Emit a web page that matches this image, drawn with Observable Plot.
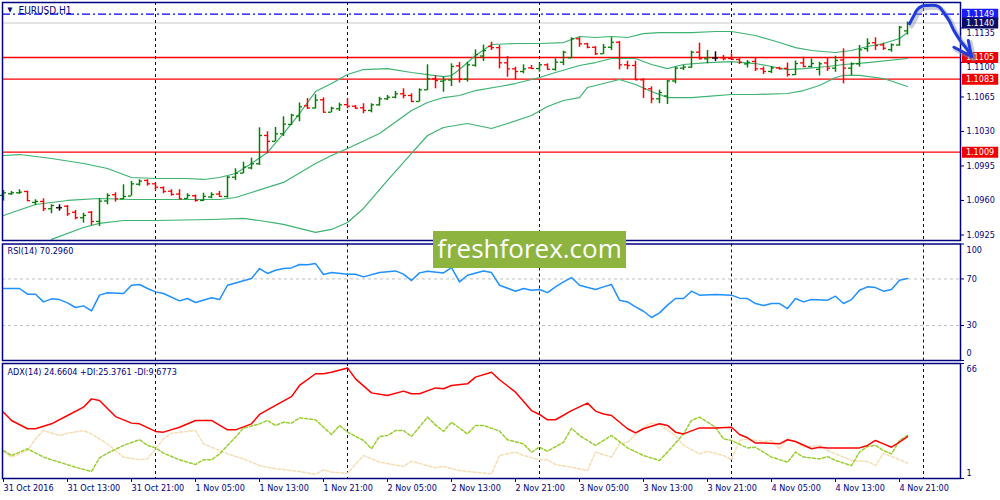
<!DOCTYPE html>
<html>
<head>
<meta charset="utf-8">
<script src="https://cdn.jsdelivr.net/npm/d3@7"></script>
<script src="https://cdn.jsdelivr.net/npm/@observablehq/plot@0.6"></script>
<style>
  body { margin: 0; background: #fff; width: 1000px; height: 500px; overflow: hidden; position: relative; }
  #chart svg { display: block; }
  #wm {
    position: absolute; left: 433px; top: 231px; width: 193px; height: 37px;
    background: #8cb43f; color: #fff; font: 26px "Open Sans", sans-serif;
    line-height: 35px; text-align: center;
  }
</style>
</head>
<body>
<div id="chart"></div>
<div id="wm">freshforex.com</div>
<script>
// EURUSD H1, 31 Oct 05:00 .. 4 Nov 22:00 (2016), one bar per hour
const opens = [1.09651,1.09668,1.09678,1.09691,1.09580,1.09590,1.09516,1.09526,1.09542,1.09480,
  1.09425,1.09481,1.09387,1.09595,1.09658,1.09617,1.09645,1.09765,1.09803,1.09769,
  1.09730,1.09694,1.09665,1.09620,1.09648,1.09600,1.09635,1.09665,1.09640,1.09836,
  1.09877,1.09930,1.09972,1.10259,1.10200,1.10276,1.10371,1.10455,1.10560,1.10538,
  1.10621,1.10495,1.10530,1.10572,1.10556,1.10540,1.10513,1.10570,1.10631,1.10647,
  1.10682,1.10665,1.10604,1.10722,1.10834,1.10810,1.10822,1.10965,1.10830,1.10972,
  1.11065,1.11162,1.11150,1.10996,1.10935,1.10908,1.10945,1.10938,1.10976,1.10931,
  1.11002,1.11047,1.11240,1.11189,1.11154,1.11088,1.11154,1.11205,1.10976,1.10969,
  1.10824,1.10733,1.10631,1.10660,1.10812,1.10942,1.10952,1.11104,1.11037,1.11045,
  1.11048,1.11040,1.11030,1.10985,1.11010,1.10935,1.10908,1.10944,1.10940,1.10876,
  1.10995,1.10959,1.10930,1.10995,1.10942,1.11025,1.10942,1.10986,1.11140,1.11200,
  1.11178,1.11130,1.11177,1.11320];
const highs = [1.09701,1.09691,1.09709,1.09695,1.09607,1.09617,1.09556,1.09556,1.09549,1.09499,
  1.09471,1.09488,1.09617,1.09668,1.09678,1.09759,1.09793,1.09810,1.09810,1.09775,
  1.09738,1.09709,1.09709,1.09668,1.09655,1.09674,1.09678,1.09691,1.09843,1.09921,
  1.09988,1.10029,1.10337,1.10297,1.10340,1.10449,1.10475,1.10589,1.10634,1.10672,
  1.10641,1.10546,1.10587,1.10631,1.10563,1.10581,1.10581,1.10647,1.10665,1.10705,
  1.10733,1.10682,1.10733,1.10976,1.10867,1.10854,1.10986,1.10999,1.11002,1.11128,
  1.11177,1.11205,1.11172,1.11060,1.10952,1.10976,1.10969,1.10992,1.10986,1.11037,
  1.11114,1.11250,1.11252,1.11195,1.11160,1.11182,1.11250,1.11212,1.11013,1.11013,
  1.10834,1.10753,1.10720,1.10817,1.10952,1.10969,1.11114,1.11195,1.11121,1.11108,
  1.11070,1.11088,1.11037,1.11020,1.11050,1.10954,1.10959,1.10952,1.10994,1.11015,
  1.11053,1.11035,1.11002,1.11043,1.11063,1.11138,1.10996,1.11172,1.11240,1.11250,
  1.11195,1.11189,1.11366,1.11410];
const lows = [1.09593,1.09651,1.09661,1.09590,1.09549,1.09488,1.09465,1.09492,1.09438,1.09404,
  1.09370,1.09346,1.09336,1.09556,1.09583,1.09607,1.09644,1.09745,1.09745,1.09701,
  1.09668,1.09644,1.09610,1.09612,1.09583,1.09590,1.09617,1.09633,1.09623,1.09803,
  1.09871,1.09911,1.09955,1.10074,1.10195,1.10250,1.10360,1.10398,1.10523,1.10527,
  1.10487,1.10490,1.10502,1.10530,1.10523,1.10479,1.10489,1.10556,1.10614,1.10631,
  1.10631,1.10597,1.10598,1.10715,1.10733,1.10698,1.10756,1.10791,1.10800,1.10952,
  1.11009,1.11121,1.10935,1.10850,1.10824,1.10885,1.10930,1.10901,1.10925,1.10911,
  1.10969,1.11037,1.11154,1.11138,1.11070,1.11082,1.11121,1.10925,1.10925,1.10817,
  1.10634,1.10581,1.10581,1.10573,1.10783,1.10918,1.10940,1.11027,1.10986,1.11009,
  1.11017,1.11020,1.10979,1.10944,1.10908,1.10878,1.10888,1.10925,1.10852,1.10867,
  1.10947,1.10944,1.10862,1.10908,1.10901,1.10783,1.10867,1.10952,1.11104,1.11121,
  1.11121,1.11104,1.11165,1.11278];
const closes = [1.09678,1.09678,1.09684,1.09598,1.09590,1.09516,1.09549,1.09526,1.09465,1.09425,
  1.09448,1.09387,1.09593,1.09651,1.09617,1.09641,1.09769,1.09796,1.09769,1.09735,
  1.09691,1.09661,1.09617,1.09651,1.09600,1.09641,1.09661,1.09641,1.09836,1.09877,
  1.09938,1.09972,1.10259,1.10200,1.10276,1.10374,1.10465,1.10550,1.10538,1.10618,
  1.10495,1.10536,1.10570,1.10556,1.10536,1.10513,1.10570,1.10631,1.10647,1.10682,
  1.10665,1.10604,1.10722,1.10834,1.10817,1.10822,1.10959,1.10830,1.10976,1.11080,
  1.11120,1.11150,1.10996,1.10935,1.10908,1.10935,1.10938,1.10976,1.10931,1.11002,
  1.11104,1.11240,1.11189,1.11154,1.11088,1.11154,1.11205,1.10976,1.10969,1.10824,
  1.10733,1.10631,1.10695,1.10812,1.10942,1.10952,1.11104,1.11037,1.11050,1.11045,
  1.11037,1.11032,1.11002,1.11002,1.10935,1.10908,1.10944,1.10935,1.10876,1.10989,
  1.10959,1.10989,1.10986,1.10942,1.11020,1.10942,1.10986,1.11128,1.11195,1.11172,
  1.11144,1.11179,1.11357,1.11400];

// Bollinger bands (20), read at selected bars
const bbUpBar = [0,2,6,10,13,16,19,23,25,27,29,31,33,35,37,39,41,43,45,48,51,55,56,57,59,61,64,67,70,72,74,76,78,80,82,86,89,91,94,97,99,101,104,106,108,110,112,113];
const bbUp = [1.10056,1.10066,1.10026,1.09975,1.09924,1.09833,1.09823,1.09823,1.09813,1.09833,1.09874,1.09975,1.10087,1.10279,1.10482,1.10705,1.10786,1.10878,1.10928,1.10938,1.10898,1.10857,1.10867,1.10928,1.11070,1.11182,1.11192,1.11192,1.11202,1.11263,1.11253,1.11263,1.11253,1.11293,1.11303,1.11303,1.11314,1.11314,1.11273,1.11202,1.11151,1.11121,1.11101,1.11121,1.11162,1.11192,1.11243,1.11303];
const bbMidBar = [0,4,8,12,16,23,27,29,31,35,39,41,43,47,51,53,55,57,59,62,64,67,69,72,74,76,79,81,83,85,88,91,94,96,98,100,103,105,108,113];
const bbMid = [1.09448,1.09559,1.09600,1.09620,1.09610,1.09610,1.09610,1.09630,1.09681,1.09783,1.09975,1.10056,1.10127,1.10279,1.10513,1.10594,1.10644,1.10665,1.10715,1.10756,1.10786,1.10847,1.10898,1.10969,1.10999,1.11040,1.11040,1.10979,1.10938,1.10979,1.10999,1.11009,1.10989,1.10959,1.10928,1.10938,1.10959,1.10979,1.10999,1.11040];
const bbLowBar = [6,10,12,15,19,26,30,32,35,39,41,43,45,48,51,53,55,58,61,63,66,68,70,72,73,75,77,79,81,83,86,88,91,94,98,100,102,104,105,107,110,113];
const bbLow = [1.09205,1.09326,1.09367,1.09397,1.09397,1.09407,1.09418,1.09397,1.09357,1.09276,1.09306,1.09377,1.09519,1.09803,1.10077,1.10259,1.10340,1.10381,1.10330,1.10381,1.10462,1.10553,1.10614,1.10644,1.10746,1.10786,1.10827,1.10776,1.10705,1.10644,1.10644,1.10655,1.10675,1.10675,1.10685,1.10715,1.10766,1.10847,1.10868,1.10868,1.10837,1.10756];

// RSI(14)
const rsiBar = [0,2,3,4,5,6,7,8,9,10,11,12,13,15,16,17,18,19,20,22,23,24,26,27,28,29,31,32,33,34,35,36,37,38,39,40,41,43,44,45,47,49,50,51,52,53,55,56,57,58,60,61,62,64,65,66,67,68,69,70,71,72,74,75,76,77,78,79,80,81,82,83,84,85,86,87,89,91,92,93,94,95,96,97,98,99,100,101,103,104,105,106,107,108,109,110,111,112,113];
const rsiVal = [61.8,61.8,56.9,56.9,50.3,52.9,52.3,49.5,45.5,46.9,42.6,56.1,58.1,57.5,64.6,65.2,61.8,58.9,57.5,51.2,53.2,49.8,53.8,52.3,64.6,66.6,70.4,78.9,74.7,77.5,78.9,79.5,82.4,82.1,83.2,73.8,75.5,74.1,74.1,71.8,75.5,76.9,74.1,68.6,75.2,76.7,75.2,79.8,67.5,73.2,76.9,75.5,64.6,59.5,61.8,60.3,60.9,58.3,63.2,67.5,71.2,64.6,60.9,63.2,65.2,51.8,50.3,46.0,42.3,36.9,40.9,47.5,53.2,53.2,59.5,56.1,56.6,56.1,53.5,53.2,48.9,47.2,48.9,48.9,44.6,53.2,50.3,52.3,51.8,55.2,48.9,52.3,60.3,63.2,62.6,59.5,60.9,68.9,70.296];
const rsiLevels = [70, 30];

// ADX(14), +DI, -DI
const adxBar = [0,1,3,4,6,8,10,11,12,14,16,17,19,20,22,24,26,28,29,31,32,34,36,37,39,40,41,43,44,46,48,50,51,52,54,55,56,58,59,61,62,64,66,67,68,69,71,73,74,75,76,78,79,80,82,83,84,85,87,89,91,92,93,94,95,97,98,99,101,102,103,105,107,108,109,110,111,112,113];
const adxVal = [38.5,33.8,29.1,29.1,31.9,36.6,41.3,46.0,45.1,36.0,32.3,31.9,27.6,27.2,30.0,33.8,33.8,28.5,28.5,31.9,37.2,42.3,47.3,53.6,60.2,60.2,61.1,63.5,57.3,49.4,47.9,50.4,48.9,48.9,52.2,51.7,53.6,54.5,58.3,61.1,56.8,49.8,39.4,37.2,34.2,34.2,39.4,43.6,39.1,37.5,36.6,29.1,26.8,29.1,31.9,31.0,27.2,26.2,29.6,29.6,30.0,25.9,24.0,21.0,21.0,20.6,22.9,21.9,17.8,18.7,18.3,18.3,18.3,19.7,22.5,20.6,18.7,21.5,24.6604];
const plusBar = [0,1,3,5,7,9,11,12,13,15,17,18,19,20,22,24,25,26,27,29,30,32,33,34,35,36,37,39,40,41,42,43,45,46,47,48,49,50,51,53,54,55,56,58,59,60,62,63,65,66,67,68,70,71,72,74,76,78,80,82,83,85,86,87,89,90,91,93,94,95,96,98,99,100,102,103,104,106,107,108,109,110,111,112,113];
const plusVal = [16.8,14.0,17.8,13.1,10.2,7.4,5.0,12.7,15.3,19.7,22.9,19.7,18.3,15.3,11.6,8.9,11.6,11.6,14.9,24.4,29.4,31.9,33.8,31.0,32.8,32.3,35.3,34.2,30.0,25.9,31.0,27.2,22.5,17.8,24.7,25.3,28.1,28.1,24.7,35.7,31.3,27.6,32.8,26.2,31.0,31.0,27.8,22.9,20.6,15.9,18.7,16.4,21.5,29.4,25.3,19.7,25.3,18.3,14.0,11.2,15.9,26.2,33.8,35.7,30.0,23.4,22.5,18.3,18.7,15.9,13.1,10.2,15.9,13.1,12.1,13.4,11.2,8.3,15.9,19.1,19.7,16.8,14.9,22.5,25.3761];
const minusBar = [0,1,3,4,5,7,8,10,11,13,14,15,17,18,20,21,24,25,28,30,32,34,37,39,40,41,43,45,47,50,51,54,55,57,61,62,64,65,67,68,69,71,73,74,76,77,78,80,81,82,84,85,87,88,90,91,92,93,95,96,97,98,99,100,102,103,105,106,108,109,110,112,113];
const minusVal = [15.9,13.1,16.8,23.4,28.1,25.3,26.6,28.1,26.2,20.6,16.8,13.1,11.6,12.1,23.4,26.6,28.1,20.6,14.9,12.1,8.3,6.5,5.0,3.3,5.9,4.6,4.0,14.0,10.2,7.8,10.8,7.0,7.8,5.5,3.6,14.0,15.9,14.0,11.6,11.6,8.9,7.4,5.5,15.9,13.1,20.6,21.5,30.0,32.3,31.5,25.3,19.7,14.9,16.4,14.0,11.6,22.5,23.4,21.9,22.5,17.8,23.4,21.9,18.7,19.7,16.8,13.1,11.2,10.6,8.3,15.3,11.7,9.6773];

// horizontal levels and price tags
const levels = [1.1105, 1.1083, 1.1009];
const alertLevel = 1.1149;
const bidLevel = 1.1140;
const priceTicks = [1.1135, 1.1100, 1.1065, 1.1030, 1.0995, 1.0960, 1.0925];
const hiddenTicks = [1.1135, 1.1100]; // partly covered by the tags
const tagValues = [1.1149, 1.1140, 1.1105, 1.1083, 1.1009];
const tagColors = ["#1c1cff", "#0d0d66", "#f00000", "#f00000", "#f00000"];

// hand-drawn forecast arrow (hours from first bar, price)
const arrowHour = [113.25, 113.8, 114.2, 114.8, 115.4, 116.5, 117, 117.5, 118.2, 118.8, 119.6, 120.5, 121];
const arrowPrice = [1.11392, 1.11476, 1.11534, 1.11570, 1.11577, 1.11577, 1.11560, 1.11509, 1.11425, 1.11324, 1.11222, 1.11128, 1.11060];
const headHour = [120.6, 121, 118.8];
const headPrice = [1.11222, 1.11060, 1.11154];

const xTickHours = d3.range(0, 113, 8);
const daySepHours = [19, 43, 67, 91, 115];

const NAVY = "#000080", GREEN = "#008000", RED = "#ff0000", BAND = "#3cb371";
const FONT = "'DejaVu Sans Condensed','DejaVu Sans',sans-serif";
const t0 = Date.UTC(2016, 9, 31, 5);
const at = h => new Date(t0 + h * 36e5);
const xDomain = [at(-0.125), at(119.625)];
const TICK = 0.375; // open/close tick length, hours

const bars = opens.map((o, i) => ({t: at(i), o, h: highs[i], l: lows[i], c: closes[i]}));
const barColor = d => d.c > d.o ? GREEN : d.c < d.o ? RED : "#000";
const pts = (hs, vs) => hs.map((h, i) => ({t: at(h), v: vs[i]}));
const tags = tagValues.map((v, i) => ({v, bg: tagColors[i]}));
const daySeps = daySepHours.map(at);

const base = {
  width: 1000, marginLeft: 2, marginRight: 40,
  style: {fontFamily: FONT, fontSize: "9px", color: NAVY, background: "#fff", overflow: "visible"},
  color: {type: "identity"}
};
const xNone = {type: "utc", domain: xDomain, axis: null, label: null};

// --- price panel
const main = Plot.plot({
  ...base, height: 241, marginTop: 2, marginBottom: 1,
  x: xNone,
  y: {domain: [1.09194, 1.11608], axis: "right", ticks: priceTicks, tickFormat: () => "", tickSize: 3, label: null},
  marks: [
    Plot.ruleY([bidLevel], {stroke: "#c8c8c8"}),
    Plot.ruleY([alertLevel], {stroke: "#0000ff", strokeWidth: 1.2, strokeDasharray: "8,3,2,3"}),
    Plot.ruleY(levels, {stroke: RED, strokeWidth: 1.3}),
    Plot.ruleX(daySeps, {stroke: NAVY, strokeDasharray: "3,3"}),
    Plot.line(pts(bbUpBar, bbUp), {x: "t", y: "v", stroke: BAND, strokeWidth: 1.2}),
    Plot.line(pts(bbMidBar, bbMid), {x: "t", y: "v", stroke: BAND, strokeWidth: 1.2}),
    Plot.line(pts(bbLowBar, bbLow), {x: "t", y: "v", stroke: BAND, strokeWidth: 1.2}),
    Plot.ruleX(bars, {x: "t", y1: "l", y2: "h", stroke: barColor, strokeWidth: 1.5}),
    Plot.ruleY(bars, {y: "o", x1: d => new Date(+d.t - TICK * 36e5), x2: "t", stroke: barColor, strokeWidth: 1.3}),
    Plot.ruleY(bars, {y: "c", x1: "t", x2: d => new Date(+d.t + TICK * 36e5), stroke: barColor, strokeWidth: 1.3}),
    Plot.frame({stroke: NAVY, strokeWidth: 1.5}),
    Plot.text(priceTicks.filter(v => !hiddenTicks.includes(v)), {y: d => d, text: d => d.toFixed(4), frameAnchor: "right", textAnchor: "start", dx: 6, fill: NAVY}),
    Plot.text(hiddenTicks, {y: d => d, text: d => d.toFixed(4), frameAnchor: "right", textAnchor: "start", dx: 6, dy: 5, fill: NAVY}),
    Plot.ruleY(tags, {y: "v", x1: () => at(119.875), x2: () => at(124.4), stroke: "bg", strokeWidth: 11}),
    Plot.text(tags, {y: "v", x: () => at(120.3), text: d => d.v.toFixed(4), textAnchor: "start", fill: "#fff"}),
    Plot.line(pts(arrowHour, arrowPrice), {x: "t", y: "v", stroke: "#8890a8", strokeOpacity: 0.45, strokeWidth: 5, dx: 2, dy: 2, curve: "catmull-rom"}),
    Plot.line(pts(headHour, headPrice), {x: "t", y: "v", stroke: "#8890a8", strokeOpacity: 0.45, strokeWidth: 5, dx: 2, dy: 2}),
    Plot.line(pts(arrowHour, arrowPrice), {x: "t", y: "v", stroke: "#1f3bdc", strokeWidth: 3, curve: "catmull-rom"}),
    Plot.line(pts(headHour, headPrice), {x: "t", y: "v", stroke: "#1f3bdc", strokeWidth: 3, strokeLinejoin: "round"}),
    Plot.text(["\u25BC"], {frameAnchor: "top-left", dx: 5, dy: 5, fontSize: 7, fill: NAVY}),
    Plot.text(["EURUSD,H1"], {frameAnchor: "top-left", dx: 16, dy: 4, fontSize: 10, fill: NAVY})
  ]
});

// --- RSI panel
const rsi = Plot.plot({
  ...base, height: 120, marginTop: 2.5, marginBottom: 1,
  x: xNone,
  y: {domain: [0, 100], axis: "right", ticks: [100, 70, 30, 0], tickFormat: () => "", tickSize: 3, label: null},
  marks: [
    Plot.ruleY(rsiLevels, {stroke: "#c0c0c0", strokeDasharray: "3,3"}),
    Plot.ruleX(daySeps, {stroke: NAVY, strokeDasharray: "3,3"}),
    Plot.line(pts(rsiBar, rsiVal), {x: "t", y: "v", stroke: "#1e90ff"}),
    Plot.frame({stroke: NAVY, strokeWidth: 1.5}),
    Plot.text(rsiLevels, {y: d => d, text: d => `${d}`, frameAnchor: "right", textAnchor: "start", dx: 6, fill: NAVY}),
    Plot.text([100], {y: d => d, text: d => `${d}`, frameAnchor: "right", textAnchor: "start", dx: 6, dy: 6, fill: NAVY}),
    Plot.text([0], {y: d => d, text: d => `${d}`, frameAnchor: "right", textAnchor: "start", dx: 6, dy: -7, fill: NAVY}),
    Plot.text(["RSI(14) 70.2960"], {frameAnchor: "top-left", dx: 5, dy: 4, fill: NAVY})
  ]
});

// --- ADX panel with time axis
const fmtDay = d3.utcFormat("%-d %b %H:%M");
const adx = Plot.plot({
  ...base, height: 139, marginTop: 2, marginBottom: 22,
  x: {type: "utc", domain: xDomain, axis: "bottom", ticks: xTickHours.map(at), tickFormat: () => "", tickSize: 4, label: null},
  y: {domain: [1, 66], axis: "right", ticks: [66, 1], tickFormat: () => "", tickSize: 3, label: null},
  marks: [
    Plot.ruleX(daySeps, {stroke: NAVY, strokeDasharray: "3,3"}),
    Plot.line(pts(minusBar, minusVal), {x: "t", y: "v", stroke: "#f5deb3", strokeDasharray: "3,2"}),
    Plot.line(pts(plusBar, plusVal), {x: "t", y: "v", stroke: "#9acd32", strokeDasharray: "3,2"}),
    Plot.line(pts(adxBar, adxVal), {x: "t", y: "v", stroke: RED}),
    Plot.frame({stroke: NAVY, strokeWidth: 1.5}),
    Plot.text([66], {y: d => d, text: d => `${d}`, frameAnchor: "right", textAnchor: "start", dx: 6, dy: 6, fill: NAVY}),
    Plot.text([1], {y: d => d, text: d => `${d}`, frameAnchor: "right", textAnchor: "start", dx: 6, dy: -5, fill: NAVY}),
    Plot.text(xTickHours, {x: h => at(h), text: (h, i) => i === 0 ? "31 Oct 2016" : fmtDay(at(h)), frameAnchor: "bottom", textAnchor: "start", lineAnchor: "top", dy: 6, fill: NAVY}),
    Plot.text(["ADX(14) 24.6604 +DI:25.3761 -DI:9.6773"], {frameAnchor: "top-left", dx: 5, dy: 5, fill: NAVY})
  ]
});

const holder = d3.select("#chart");
holder.append(() => main);
holder.append(() => rsi);
holder.append(() => adx);
</script>
</body>
</html>
